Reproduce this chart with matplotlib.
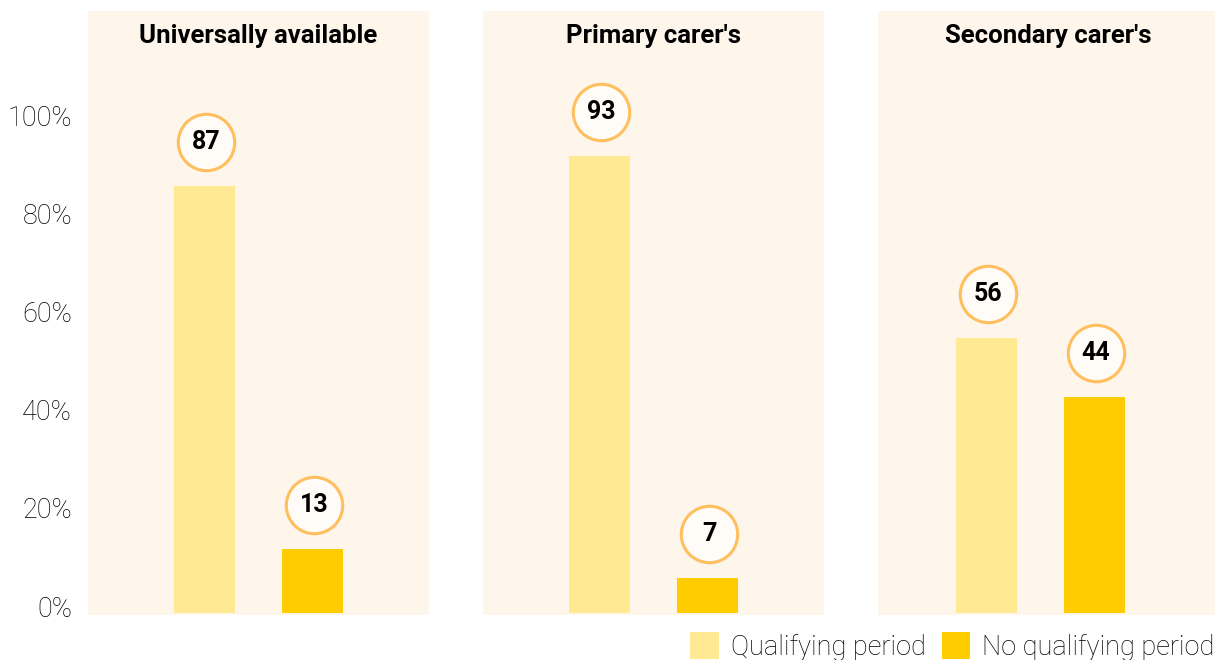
import matplotlib
matplotlib.use("Agg")
from matplotlib import pyplot as plt
from matplotlib.patches import Patch
from matplotlib.transforms import ScaledTranslation

plt.rcParams['font.family'] = ['Roboto', 'DejaVu Sans']

panels = ["Universally available", "Primary carer's", "Secondary carer's"]
qualifying = [87, 93, 56]
no_qualifying = [13, 7, 44]
series_names = ["Qualifying period", "No qualifying period"]
yticks = [0, 20, 40, 60, 80, 100]
ytick_labels = ["0%", "20%", "40%", "60%", "80%", "100%"]

light = "#FFE992"
dark = "#FFCC00"
panel_bg = "#FEF5EB"
ring = "#FFBF5E"

W, H = 1215, 660
fig = plt.figure(figsize=(W / 100, H / 100), dpi=100)

lefts = [88, 483, 878]
pw = 341
bottom, top = 615, 11
xlims = [(-1.08, 2.08), (-1.08, 2.08), (-1.005, 2.152)]

for i, name in enumerate(panels):
    ax = fig.add_axes([lefts[i] / W, 1 - bottom / H, pw / W, (bottom - top) / H])
    ax.set_facecolor(panel_bg)
    for s in ax.spines.values():
        s.set_visible(False)
    vals = [qualifying[i], no_qualifying[i]]
    ax.bar([0, 1], vals, width=0.565, color=[light, dark])
    ax.set_xlim(*xlims[i])
    ax.set_ylim(-0.5, 122.6)
    ax.set_xticks([])
    ax.tick_params(axis='y', length=0, pad=11.5)
    if i == 0:
        ax.set_yticks(yticks)
        ax.set_yticklabels(ytick_labels, fontsize=19.5, color="#000000",
                           fontweight='light')
        shift = ScaledTranslation(0, 0.065, fig.dpi_scale_trans)
        for lab in ax.get_yticklabels():
            lab.set_transform(lab.get_transform() + shift)
    else:
        ax.set_yticks([])
    ax.text(0.5, 1 - 25 / (bottom - top), name, transform=ax.transAxes,
            ha='center', va='center', fontsize=18.5, fontweight='bold')

    # value bubbles above each bar
    up = ax.transData + ScaledTranslation(0, 0.44, fig.dpi_scale_trans)
    for x, v in zip([0, 1], vals):
        ax.scatter([x + 0.015], [v], s=1650, marker='o', facecolor="#FFFCF7",
                   edgecolor=ring, linewidth=2.2, transform=up, zorder=3,
                   clip_on=False)
        ax.text(x + 0.015, v, str(v), transform=up, ha='center', va='center',
                fontsize=18, fontweight='bold', zorder=4)

handles = [Patch(facecolor=light), Patch(facecolor=dark)]
fig.legend(handles, series_names, loc='lower right', bbox_to_anchor=(1.0155, -0.03),
           ncol=2, frameon=False, handlelength=1.05, handleheight=1.15,
           handletextpad=0.45, columnspacing=0.6, borderpad=0.2,
           prop={'weight': 'light', 'size': 19.5})

fig.savefig("out.png", dpi=100)
